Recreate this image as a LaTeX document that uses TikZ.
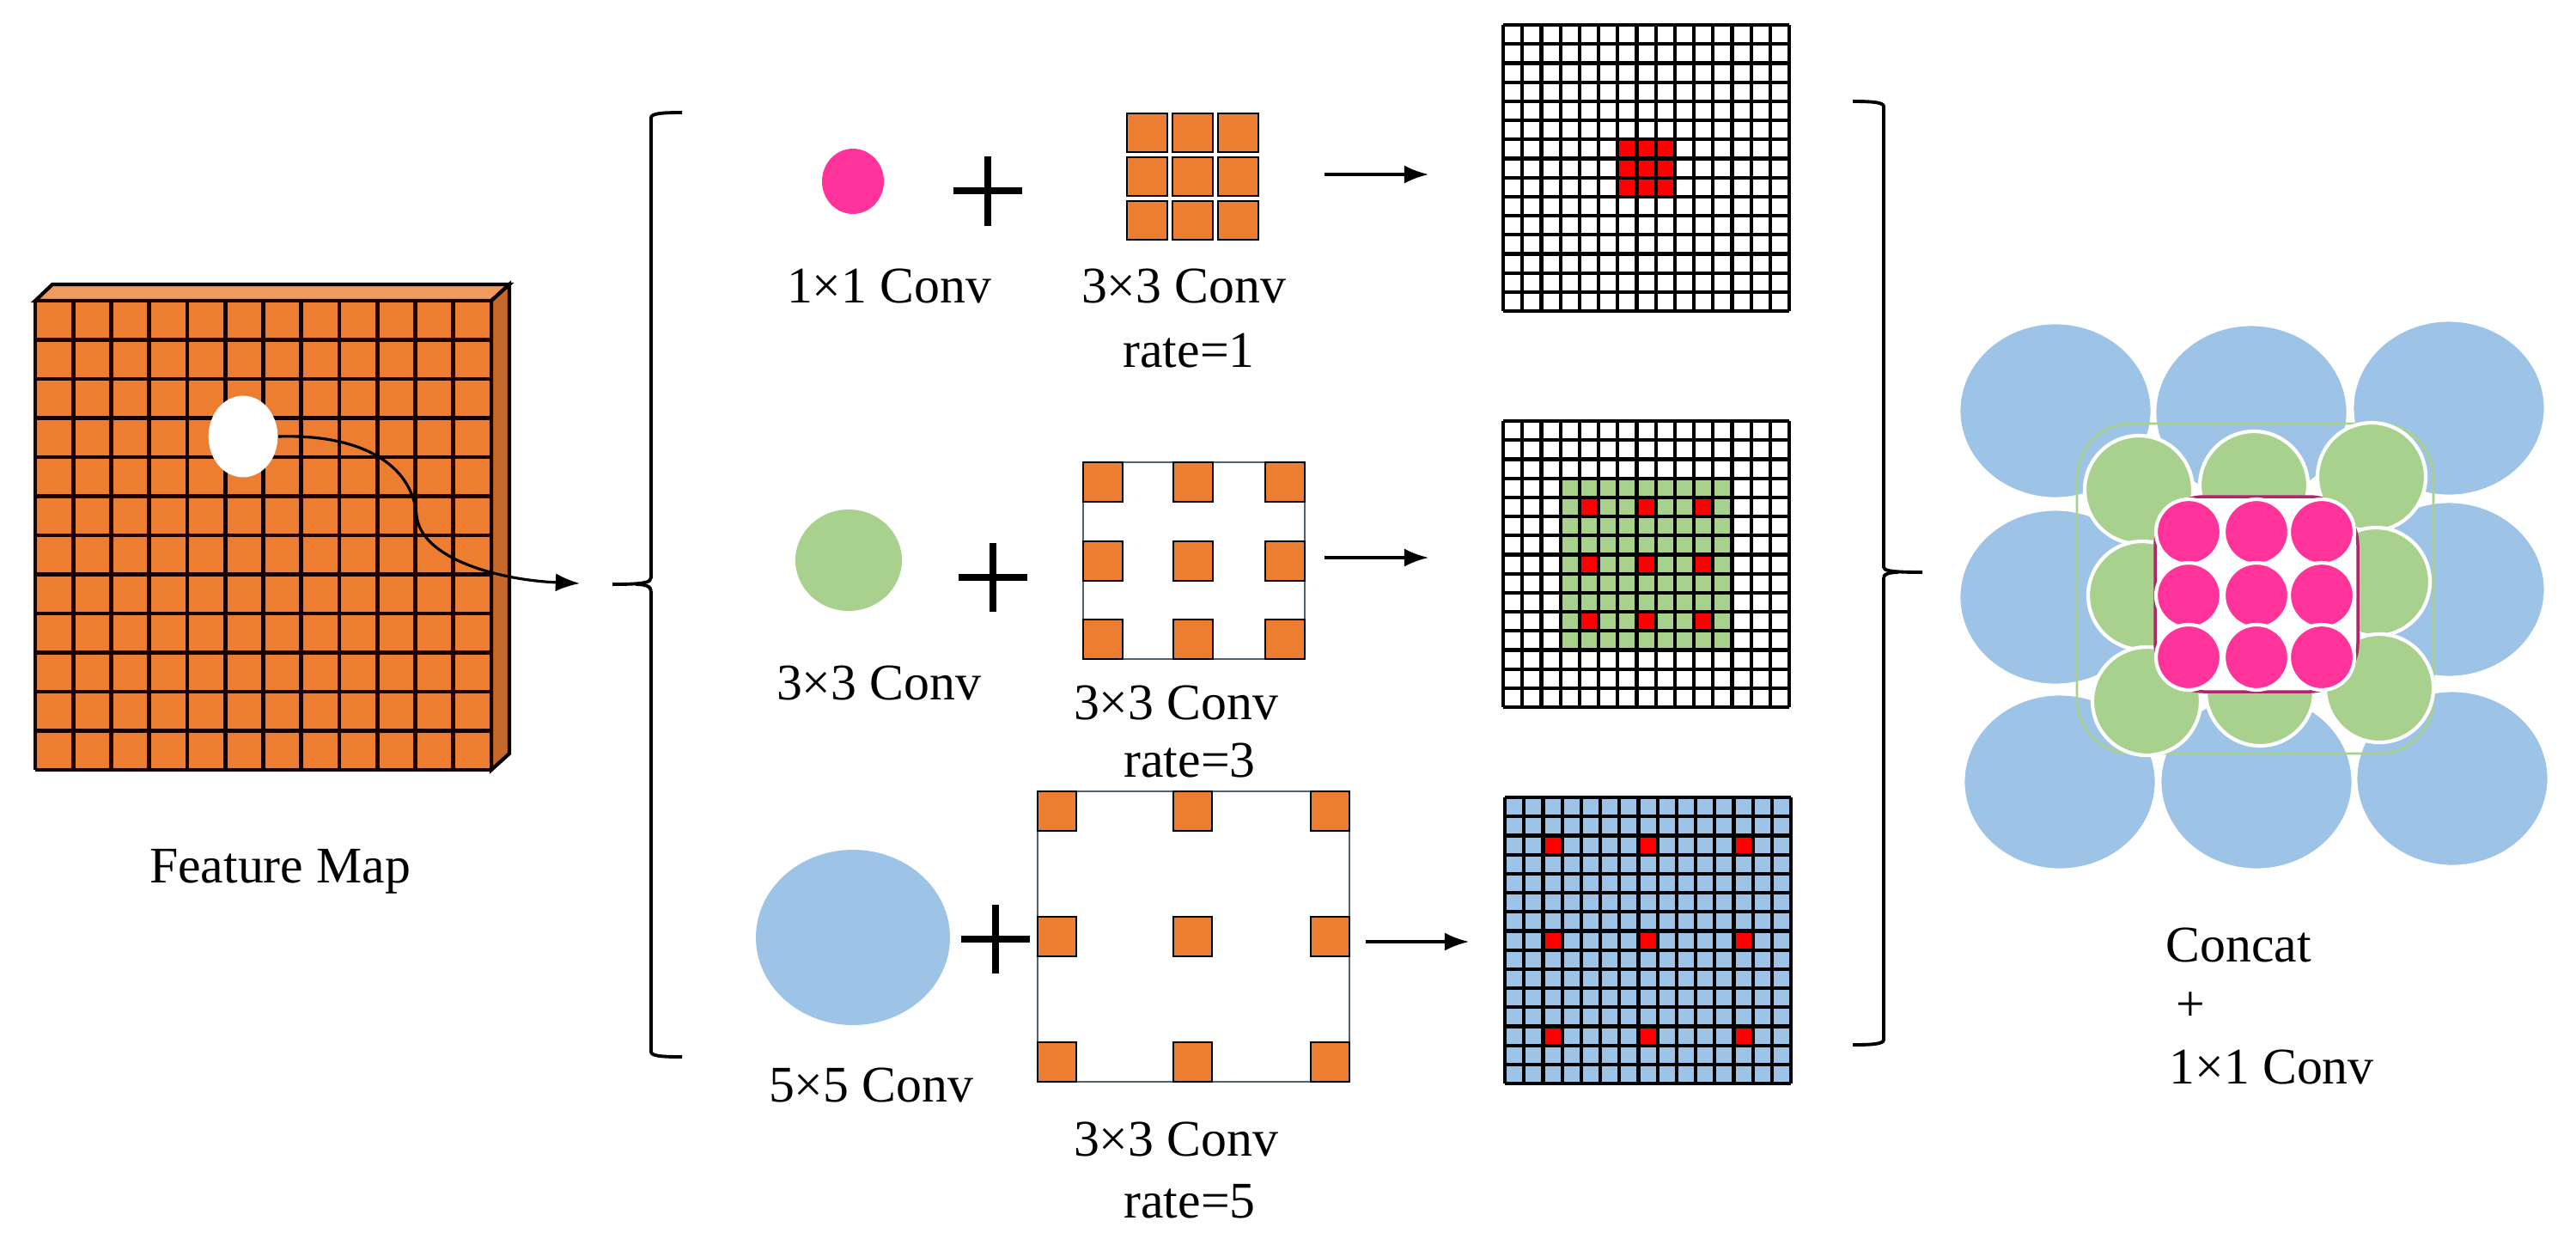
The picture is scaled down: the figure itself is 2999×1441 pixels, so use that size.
\documentclass[tikz,border=0pt]{standalone}
\usepackage{fontspec}
\setmainfont{Liberation Serif}
\usetikzlibrary{arrows.meta}
\begin{document}
\begin{tikzpicture}[x=0.01cm,y=-0.01cm,
  lbl/.style={font=\fontsize{17}{20}\selectfont,inner sep=0pt},
  ker/.style={fill=orange1,draw=black,line width=0.8pt},
  gl/.style={line width=1.2pt,black},
  arr/.style={-{Latex[length=8pt,width=6pt]},line width=0.9pt},
  brace/.style={line width=1.1pt}]
\definecolor{orange1}{HTML}{ED7D31}
\definecolor{orangeside}{HTML}{C5682A}
\definecolor{orangetop}{HTML}{F19A5E}
\definecolor{blue1}{HTML}{9DC3E6}
\definecolor{green1}{HTML}{A9D18E}
\definecolor{pink1}{HTML}{FF3399}
\useasboundingbox (0,0) rectangle (2999,1441);
% Feature map
\fill[orangetop,draw=black,line width=1.2pt] (41,350)--(61,331)--(593,331)--(572,350)--cycle;
\fill[orangeside,draw=black,line width=1.2pt] (572,350)--(593,331)--(593,877)--(572,896)--cycle;
\fill[orange1] (41,350) rectangle (572,896);
\foreach \k in {0,...,12}{
  \draw[line width=1.4pt,black!90!red] (41+\k*44.25,350)--(41+\k*44.25,896);
  \draw[line width=1.4pt,black!90!red] (41,350+\k*45.5)--(572,350+\k*45.5);}
\node[circle,fill=white,minimum size=27pt,inner sep=0pt,xscale=0.85] (dot) at (283,508) {};
\coordinate (fmend) at (675,679);
\draw[arr] (dot.east) .. controls (420,505) and (480,540) .. (485,600) .. controls (490,650) and (580,675) .. (fmend);
\node[lbl] (fmlabel) at (326,1014) {Feature Map};
% left brace
\draw[brace] (794,131) .. controls (770,131) and (758,132) .. (758,137) -- (758,672) .. controls (758,678) and (750,680) .. (713,680);
\draw[brace] (758,688) -- (758,1224) .. controls (758,1229) and (770,1230) .. (794,1230);
\draw[brace] (758,688) .. controls (758,682) and (750,680) .. (740,680);
% right brace
\draw[brace] (2157,118) .. controls (2180,118) and (2193,119) .. (2193,124) -- (2193,660) .. controls (2193,664) and (2200,666) .. (2238,666);
\draw[brace] (2193,672) -- (2193,1210) .. controls (2193,1215) and (2180,1216) .. (2157,1216);
\draw[brace] (2193,672) .. controls (2193,668) and (2200,666) .. (2210,666);
% Row 1
\fill[pink1] (993,211) ellipse [x radius=36, y radius=38];
\draw[line width=2.2pt] (1110,222)--(1190,222) (1150,182)--(1150,263);
\begin{scope}[shift={(1312,132)}]
  \foreach \i in {0,1,2}\foreach \j in {0,1,2}
    \draw[ker] (\i*53,\j*51) rectangle ++(47,45);
\end{scope}
\coordinate (a1s) at (1542,203); \coordinate (a1e) at (1663,203);
\draw[arr] (a1s)--(a1e);
\node[lbl] (l11) at (1035,333) {1×1 Conv};
\node[lbl] (l12) at (1378,333) {3×3 Conv};
\node[lbl] (l13) at (1384,408) {rate=1};
% Row 2
\fill[green1] (988,652) ellipse [x radius=62, y radius=59];
\draw[line width=2.2pt] (1116,672)--(1196,672) (1156,632)--(1156,712);
\draw[draw=blue1!50!black,line width=0.6pt] (1261,538) rectangle (1519,767);
\foreach \x in {1261,1366,1473}\foreach \y in {538,630,721}
  \draw[ker] (\x,\y) rectangle ++(46,46);
\coordinate (a2s) at (1542,649); \coordinate (a2e) at (1663,649);
\draw[arr] (a2s)--(a2e);
\node[lbl] (l21) at (1023,795) {3×3 Conv};
\node[lbl] (l22) at (1369,818) {3×3 Conv};
\node[lbl] (l23) at (1385,885) {rate=3};
% Row 3
\fill[blue1] (993,1091) ellipse [x radius=113, y radius=102];
\draw[line width=2.2pt] (1119,1093)--(1199,1093) (1159,1053)--(1159,1133);
\draw[draw=blue1!50!black,line width=0.6pt] (1208,921) rectangle (1571,1259);
\foreach \x in {1208,1366,1526}\foreach \y in {921,1067,1213}
  \draw[ker] (\x,\y) rectangle ++(45,46);
\coordinate (a3s) at (1590,1096); \coordinate (a3e) at (1710,1096);
\draw[arr] (a3s)--(a3e);
\node[lbl] (l31) at (1014,1263) {5×5 Conv};
\node[lbl] (l32) at (1369,1326) {3×3 Conv};
\node[lbl] (l33) at (1385,1398) {rate=5};
% Grid 1
\begin{scope}[shift={(1750,29)}]
  \fill[white] (0,0) rectangle (333,333);
  \foreach \i in {6,7,8}\foreach \j in {6,7,8} \fill[red] (\i*22.2,\j*22.2) rectangle ++(22.2,22.2);
  \foreach \k in {0,...,15}{\draw[gl] (\k*22.2,0)--(\k*22.2,333); \draw[gl] (0,\k*22.2)--(333,\k*22.2);}
\end{scope}
% Grid 2
\begin{scope}[shift={(1750,490)}]
  \fill[white] (0,0) rectangle (333,333);
  \fill[green1] (3*22.2,3*22.2) rectangle (12*22.2,12*22.2);
  \foreach \i in {4,7,10}\foreach \j in {4,7,10} \fill[red] (\i*22.2,\j*22.2) rectangle ++(22.2,22.2);
  \foreach \k in {0,...,15}{\draw[gl] (\k*22.2,0)--(\k*22.2,333); \draw[gl] (0,\k*22.2)--(333,\k*22.2);}
\end{scope}
% Grid 3
\begin{scope}[shift={(1752,928)}]
  \fill[blue1] (0,0) rectangle (333,333);
  \foreach \i in {2,7,12}\foreach \j in {2,7,12} \fill[red] (\i*22.2,\j*22.2) rectangle ++(22.2,22.2);
  \foreach \k in {0,...,15}{\draw[gl] (\k*22.2,0)--(\k*22.2,333); \draw[gl] (0,\k*22.2)--(333,\k*22.2);}
\end{scope}
% Concat
\foreach \x/\y in {2393/478,2621/480,2851/475,2393/695,2851/686,2398/910,2627/910,2855/906}
  \fill[blue1,draw=white,line width=0.8pt] (\x,\y) ellipse [x radius=112, y radius=102];
\draw[green1,line width=0.8pt,rounded corners=18] (2418,493) rectangle (2833,877);
\foreach \x/\y in {2490/570,2624/565,2761/555,2494/693,2766/677,2499/816,2631/805,2770/801}
  \fill[green1,draw=white,line width=1.2pt] (\x,\y) circle [radius=63];
\fill[white,draw=pink1!70!black,line width=1pt,rounded corners=16] (2509,578) rectangle (2745,805);
\foreach \x in {2548,2627,2703}\foreach \y in {619,693,765}
  \fill[pink1,draw=white,line width=1.2pt] (\x,\y) circle [radius=38];
\node[lbl,anchor=west] (c1) at (2521,1100) {Concat};
\node[lbl,anchor=west] (c2) at (2533,1172) {+};
\node[lbl,anchor=west] (c3) at (2525,1242) {1×1 Conv};
\end{tikzpicture}
\end{document}
